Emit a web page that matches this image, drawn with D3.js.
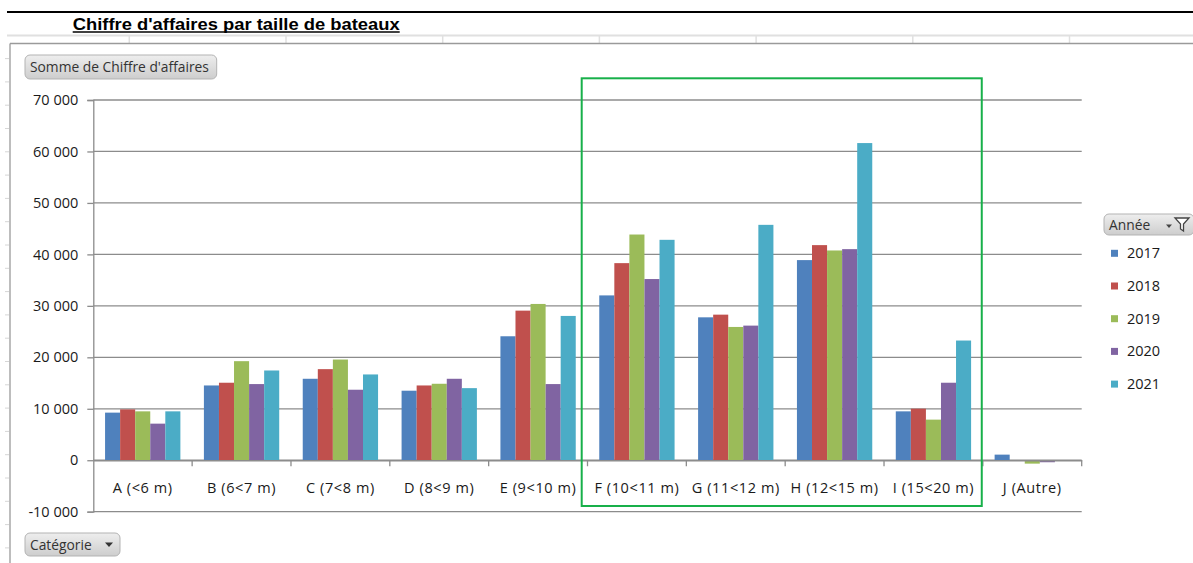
<!DOCTYPE html>
<html><head><meta charset="utf-8">
<script src="https://cdn.jsdelivr.net/npm/d3@7"></script>
<style>body{margin:0;background:#fff;overflow:hidden} svg{display:block}</style>
</head><body>
<svg id="c" width="1193" height="563"></svg>
<script>
const title = "Chiffre d'affaires par taille de bateaux";
const categories = ["A (<6 m)","B (6<7 m)","C (7<8 m)","D (8<9 m)","E (9<10 m)","F (10<11 m)","G (11<12 m)","H (12<15 m)","I (15<20 m)","J (Autre)"];
const years = ["2017","2018","2019","2020","2021"];
const v2017 = [9250,14530,15830,13510,24090,32030,27770,38890,9500,1090];
const v2018 = [9880,15060,17700,14530,29070,38300,28290,41800,10020,0];
const v2019 = [9500,19250,19570,14860,30370,43860,25900,40760,7890,-660];
const v2020 = [7110,14800,13700,15830,14800,35210,26160,41020,15060,-390];
const v2021 = [9500,17440,16670,14010,28040,42830,45740,61630,23260,0];
const yTicks = [-10000,0,10000,20000,30000,40000,50000,60000,70000];
const colors = ["#4F81BD","#C0504D","#9BBB59","#8064A2","#4BACC6"];

const series = [v2017,v2018,v2019,v2020,v2021];
const svg = d3.select("#c");
const FONT = "'Open Sans', sans-serif";

// --- spreadsheet background ---
const bg = svg.append("g");
bg.append("line").attr("x1",7).attr("x2",1193).attr("y1",12).attr("y2",12).attr("stroke","#000").attr("stroke-width",2);
bg.append("line").attr("x1",7).attr("x2",1193).attr("y1",35.5).attr("y2",35.5).attr("stroke","#e0e0e0").attr("stroke-width",2);
for (let x = 129.3; x < 1193; x += 156.7) {
  bg.append("line").attr("x1",x).attr("x2",x).attr("y1",36).attr("y2",43).attr("stroke","#e0e0e0").attr("stroke-width",1.5);
}
for (let y = 58.6; y < 563; y += 23.3) {
  bg.append("line").attr("x1",5).attr("x2",9).attr("y1",y).attr("y2",y).attr("stroke","#d6d6d6").attr("stroke-width",1);
}
// chart frame
bg.append("line").attr("x1",10).attr("x2",1193).attr("y1",43.5).attr("y2",43.5).attr("stroke","#9a9a9a").attr("stroke-width",1.3);
bg.append("line").attr("x1",10).attr("x2",10).attr("y1",43.5).attr("y2",563).attr("stroke","#9a9a9a").attr("stroke-width",1.3);

// title
const t = svg.append("text").attr("x",72.7).attr("y",29.5)
  .attr("font-family","'Liberation Sans', Arial, sans-serif").attr("font-weight","bold")
  .attr("font-size",16.5).attr("textLength",327).attr("lengthAdjust","spacingAndGlyphs")
  .attr("fill","#000").text(title);
svg.append("line").attr("x1",72.7).attr("x2",72.7+327).attr("y1",32).attr("y2",32).attr("stroke","#000").attr("stroke-width",1.3);

// scales
const x0 = d3.scaleBand().domain(categories).range([93.3,1081.7]).padding(0);
const gap = x0.bandwidth()*0.119;
const x1 = d3.scaleBand().domain(years).range([gap, x0.bandwidth()-gap]).padding(0);
const y = d3.scaleLinear().domain([-10000,70000]).range([511.7,100]);

const loc = d3.formatLocale({decimal:",",thousands:"\u00a0",grouping:[3],currency:["","€"],minus:"-"});
const fmt = loc.format(",d");

// gridlines
svg.append("g").selectAll("line").data(yTicks).join("line")
  .attr("x1",93.3).attr("x2",1081.7).attr("y1",d=>y(d)).attr("y2",d=>y(d))
  .attr("stroke","#8c8c8c").attr("stroke-width",1.3);

// y axis
const ya = svg.append("g").attr("transform","translate(93.3,0)")
  .call(d3.axisLeft(y).tickValues(yTicks).tickFormat(fmt).tickSize(6).tickPadding(9));
ya.select(".domain").attr("stroke","#8c8c8c").attr("stroke-width",1.3);
ya.selectAll(".tick line").attr("stroke","#8c8c8c").attr("stroke-width",1.3);
ya.selectAll("text").attr("font-family",FONT).attr("font-size",14.5).attr("fill","#1a1a1a");

// bars
const rows = [];
categories.forEach((c,i)=>years.forEach((yr,j)=>rows.push({c,yr,v:series[j][i],j})));
svg.append("g").selectAll("rect").data(rows).join("rect")
  .attr("x",d=>x0(d.c)+x1(d.yr)).attr("width",x1.bandwidth())
  .attr("y",d=>y(Math.max(0,d.v))).attr("height",d=>Math.abs(y(d.v)-y(0)))
  .attr("fill",d=>colors[d.j]);

// x axis at 0
const xa = svg.append("g").attr("transform",`translate(0,${y(0)})`)
  .call(d3.axisBottom(x0).tickSize(0).tickPadding(22));
xa.select(".domain").attr("stroke","#8c8c8c").attr("stroke-width",1.3);
xa.selectAll("text").attr("font-family",FONT).attr("font-size",14.5).attr("letter-spacing","0.6px").attr("fill","#1a1a1a");
const bounds = d3.range(categories.length+1).map(i=>x0.range()[0]+i*x0.step());
xa.append("g").selectAll("line").data(bounds.slice(1)).join("line")
  .attr("x1",d=>d).attr("x2",d=>d).attr("y1",0).attr("y2",6)
  .attr("stroke","#8c8c8c").attr("stroke-width",1.3);

// green highlight rectangle
const gx0 = x0("F (10<11 m)") - 5.8;
const gx1 = x0("I (15<20 m)") + x0.bandwidth() - 1.1;
svg.append("rect").attr("x",gx0).attr("y",78.3)
  .attr("width",gx1-gx0).attr("height",506-78.3)
  .attr("fill","none").attr("stroke","#18b04a").attr("stroke-width",2);

// buttons
const defs = svg.append("defs");
const gr = defs.append("linearGradient").attr("id","btn").attr("x1",0).attr("x2",0).attr("y1",0).attr("y2",1);
gr.append("stop").attr("offset","0%").attr("stop-color","#eeeeee");
gr.append("stop").attr("offset","100%").attr("stop-color","#cdcdcd");
function button(x,yy,w,h,label,fs){
  const g = svg.append("g").attr("transform",`translate(${x},${yy})`);
  g.append("rect").attr("width",w).attr("height",h).attr("rx",5).attr("fill","url(#btn)").attr("stroke","#b3b3b3");
  g.append("text").attr("x",5).attr("y",h/2+5).attr("font-family",FONT).attr("font-size",fs).attr("fill","#333").text(label);
  return g;
}
button(25,55,191.7,24,"Somme de Chiffre d'affaires",13.8);
const cb = button(25,533,95,23,"Catégorie",13.8);
cb.append("path").attr("d","M80,9.5 L88,9.5 L84,14 Z").attr("fill","#333");
const ab = button(1104,214,90,21,"Année",13.8);
ab.append("path").attr("d","M62,10.5 L68,10.5 L65,14 Z").attr("fill","#444");
ab.append("path").attr("d","M71,4 L85,4 L79.5,10 L79.5,17 L76.5,15 L76.5,10 Z").attr("fill","#fff").attr("stroke","#444").attr("stroke-width",1.3);

// legend
const lg = svg.append("g").selectAll("g").data(years).join("g")
  .attr("transform",(d,i)=>`translate(1111,${253.3+i*32.7})`);
lg.append("rect").attr("x",0).attr("y",-3.5).attr("width",7).attr("height",7).attr("fill",(d,i)=>colors[i]);
lg.append("text").attr("x",16).attr("y",5).attr("font-family",FONT).attr("font-size",14.5).attr("fill","#1a1a1a").text(d=>d);
</script>
</body></html>
